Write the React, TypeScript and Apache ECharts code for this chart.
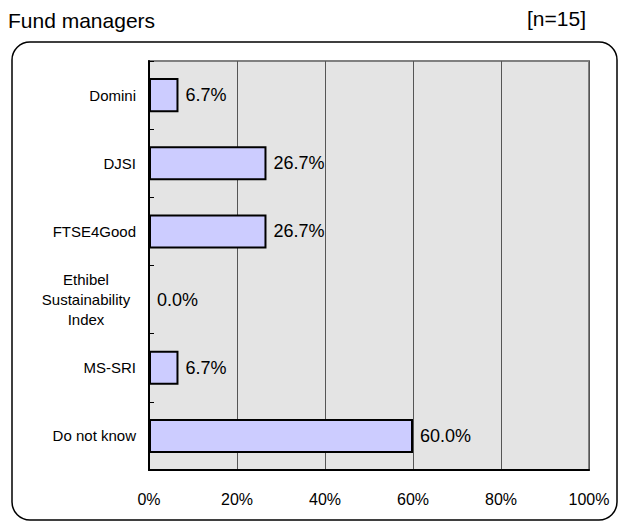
import React, { useEffect, useRef } from "react";
import * as echarts from "echarts";

const categories = ["Domini", "DJSI", "FTSE4Good", "Ethibel\nSustainability\nIndex", "MS-SRI", "Do not know"];
const values = [6.7, 26.7, 26.7, 0.0, 6.7, 60.0];
const xTicks = [0, 20, 40, 60, 80, 100];
const titleText = "Fund managers";
const nText = "[n=15]";

const FONT = "'Liberation Sans', Arial, sans-serif";

export default function App() {
  const ref = useRef<HTMLDivElement>(null);
  useEffect(() => {
    const chart = echarts.init(ref.current!, null, { renderer: "svg" });
    chart.setOption({
      animation: false,
      backgroundColor: "#ffffff",
      textStyle: { fontFamily: FONT },
      grid: {
        left: 149,
        right: 40,
        top: 61,
        bottom: 62,
        show: true,
        backgroundColor: "#e4e4e4",
        borderColor: "#808080",
        borderWidth: 2,
      },
      graphic: [
        {
          type: "rect",
          shape: { x: 12, y: 42, width: 605, height: 478, r: 18 },
          style: { fill: "none", stroke: "#000", lineWidth: 1.5 },
          z: 0,
          silent: true,
        },
        {
          type: "text",
          x: 8,
          y: 20,
          style: { text: titleText, font: `21px ${FONT}`, fill: "#000", textVerticalAlign: "middle" },
        },
        {
          type: "text",
          x: 586,
          y: 18,
          style: { text: nText, font: `21px ${FONT}`, fill: "#000", textAlign: "right", textVerticalAlign: "middle" },
        },
      ],
      xAxis: {
        type: "value",
        min: xTicks[0],
        max: xTicks[xTicks.length - 1],
        interval: 20,
        axisLine: { show: true, lineStyle: { color: "#000", width: 2 } },
        axisTick: { show: false },
        splitLine: { show: true, lineStyle: { color: "#555", width: 1 } },
        axisLabel: {
          formatter: (v: number) => `${v}%`,
          fontSize: 16,
          color: "#000",
          margin: 21,
          fontFamily: FONT,
        },
      },
      yAxis: {
        type: "category",
        data: categories,
        inverse: true,
        axisLine: { show: true, lineStyle: { color: "#000", width: 2 } },
        axisTick: { show: true, inside: true, length: 5, lineStyle: { color: "#000" } },
        axisLabel: {
          fontSize: 15,
          color: "#000",
          margin: 13,
          fontFamily: FONT,
          lineHeight: 20,
          formatter: (v: string) =>
            v.includes("\n") ? v.split("\n").map((s) => `{c|${s}}`).join("\n") : v,
          rich: {
            c: { width: 100, align: "center", fontSize: 15, lineHeight: 20, color: "#000", fontFamily: FONT },
          },
        },
      },
      series: [
        {
          type: "bar",
          data: values,
          barWidth: "50%",
          itemStyle: { color: "#ccccff", borderColor: "#000", borderWidth: 2 },
          label: {
            show: true,
            position: "right",
            distance: 7,
            formatter: (p: any) => `${Number(p.value).toFixed(1)}%`,
            fontSize: 18,
            color: "#000",
            fontFamily: FONT,
          },
        },
      ],
    });
    return () => chart.dispose();
  }, []);
  return <div ref={ref} style={{ position: "fixed", left: 0, top: 0, width: 629, height: 532 }} />;
}
